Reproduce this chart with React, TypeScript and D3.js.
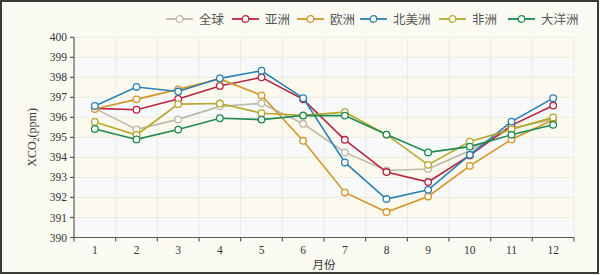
import React from "react";
import * as d3 from "d3";

const months = ["1", "2", "3", "4", "5", "6", "7", "8", "9", "10", "11", "12"];
const seriesNames = ["全球", "亚洲", "欧洲", "北美洲", "非洲", "大洋洲"];
const seriesColors = ["#bdb9a6", "#b8243f", "#d4952a", "#2b80b4", "#b5a82c", "#1e8a52"];
const global = [396.45, 395.4, 395.9, 396.55, 396.7, 395.68, 394.25, 393.35, 393.42, 394.35, 395.46, 395.9];
const asia = [396.45, 396.38, 396.92, 397.57, 398.0, 396.9, 394.88, 393.27, 392.77, 394.1, 395.6, 396.59];
const europe = [396.42, 396.9, 397.4, 397.92, 397.1, 394.83, 392.25, 391.27, 392.05, 393.58, 394.9, 395.88];
const northAmerica = [396.57, 397.52, 397.29, 397.95, 398.33, 396.96, 393.75, 391.92, 392.38, 394.13, 395.79, 396.96];
const africa = [395.77, 395.12, 396.66, 396.69, 396.21, 396.1, 396.26, 395.14, 393.63, 394.79, 395.4, 396.0];
const oceania = [395.42, 394.9, 395.39, 395.96, 395.89, 396.09, 396.09, 395.14, 394.25, 394.54, 395.13, 395.63];
const allSeries = [global, asia, europe, northAmerica, africa, oceania];
const yTicks = [390, 391, 392, 393, 394, 395, 396, 397, 398, 399, 400];

export default function App() {
  const W = 600, H = 275;
  const left = 74, right = 574, top = 37.3, bottom = 237.5;
  const x = d3.scaleBand<string>().domain(months).range([left, right]);
  const y = d3.scaleLinear().domain([390, 400]).range([bottom, top]);
  const line = d3.line<number>()
    .x((_, i) => (x(months[i]) as number) + x.bandwidth() / 2)
    .y((d) => y(d));
  const serif = "'Liberation Serif', 'DejaVu Serif', serif";
  const cjk = "'Noto Sans CJK SC', sans-serif";
  const legendX = [166, 232, 297, 360, 439, 508];
  const axisColor = "#5a5a5a";
  const boundaries = months.map((m) => x(m) as number).concat([right]);

  return (
    <svg width={W} height={H} style={{ position: "absolute", left: 0, top: 0 }}>
      <rect x={0} y={0} width={W} height={H} fill="#fbfbf4" />
      <rect x={1} y={1} width={597} height={272} fill="none" stroke="#3a3a3a" strokeWidth={2} />
      {yTicks.slice(0, -1).map((t, i) => (
        <rect key={"b" + t} x={left} y={y(t + 1)} width={right - left} height={y(t) - y(t + 1)}
          fill={i % 2 === 0 ? "#f7f9fa" : "#fcfaee"} />
      ))}
      {yTicks.map((t) => (
        <line key={"gy" + t} x1={left} x2={right} y1={y(t)} y2={y(t)} stroke="#ebebe2" strokeWidth={1} />
      ))}
      {boundaries.slice(1).map((bx, i) => (
        <line key={"gx" + i} x1={bx} x2={bx} y1={top} y2={bottom} stroke="#ebebe2" strokeWidth={1} />
      ))}
      <line x1={left} x2={left} y1={top} y2={bottom} stroke={axisColor} strokeWidth={1.2} />
      <line x1={left} x2={right} y1={bottom} y2={bottom} stroke={axisColor} strokeWidth={1.2} />
      {yTicks.map((t) => (
        <g key={"ty" + t}>
          <line x1={left - 4} x2={left} y1={y(t)} y2={y(t)} stroke={axisColor} strokeWidth={1.2} />
          <text x={left - 7} y={y(t)} dy="0.35em" textAnchor="end" fontFamily={serif} fontSize={11.5} fill="#333">{t}</text>
        </g>
      ))}
      {boundaries.map((bx, i) => (
        <line key={"tx" + i} x1={bx} x2={bx} y1={bottom} y2={bottom + 4} stroke={axisColor} strokeWidth={1.2} />
      ))}
      {months.map((m) => (
        <text key={"lx" + m} x={(x(m) as number) + x.bandwidth() / 2} y={254} textAnchor="middle" fontFamily={serif} fontSize={11.5} fill="#333">{m}</text>
      ))}
      <text x={324} y={269} textAnchor="middle" fontFamily={cjk} fontSize={11.5} fill="#333">月份</text>
      <text transform={`translate(36,${(top + bottom) / 2}) rotate(-90)`} textAnchor="middle" fontFamily={serif} fontSize={12} fill="#333">
        XCO<tspan fontSize={8} dy={3}>2</tspan><tspan dy={-3}>(ppm)</tspan>
      </text>
      {allSeries.map((s, si) => (
        <g key={"s" + si}>
          <path d={line(s) || ""} fill="none" stroke={seriesColors[si]} strokeWidth={1.6} />
          {s.map((v, i) => (
            <circle key={i} cx={(x(months[i]) as number) + x.bandwidth() / 2} cy={y(v)} r={3.3}
              fill="#ffffff" stroke={seriesColors[si]} strokeWidth={1.3} />
          ))}
        </g>
      ))}
      {seriesNames.map((n, si) => (
        <g key={"lg" + si} transform={`translate(${legendX[si]},19)`}>
          <line x1={0} x2={27} y1={0} y2={0} stroke={seriesColors[si]} strokeWidth={1.8} />
          <circle cx={13.5} cy={0} r={3.3} fill="#ffffff" stroke={seriesColors[si]} strokeWidth={1.3} />
          <text x={33} y={0} dy="0.36em" fontFamily={cjk} fontSize={12.5} fill="#555">{n}</text>
        </g>
      ))}
    </svg>
  );
}
